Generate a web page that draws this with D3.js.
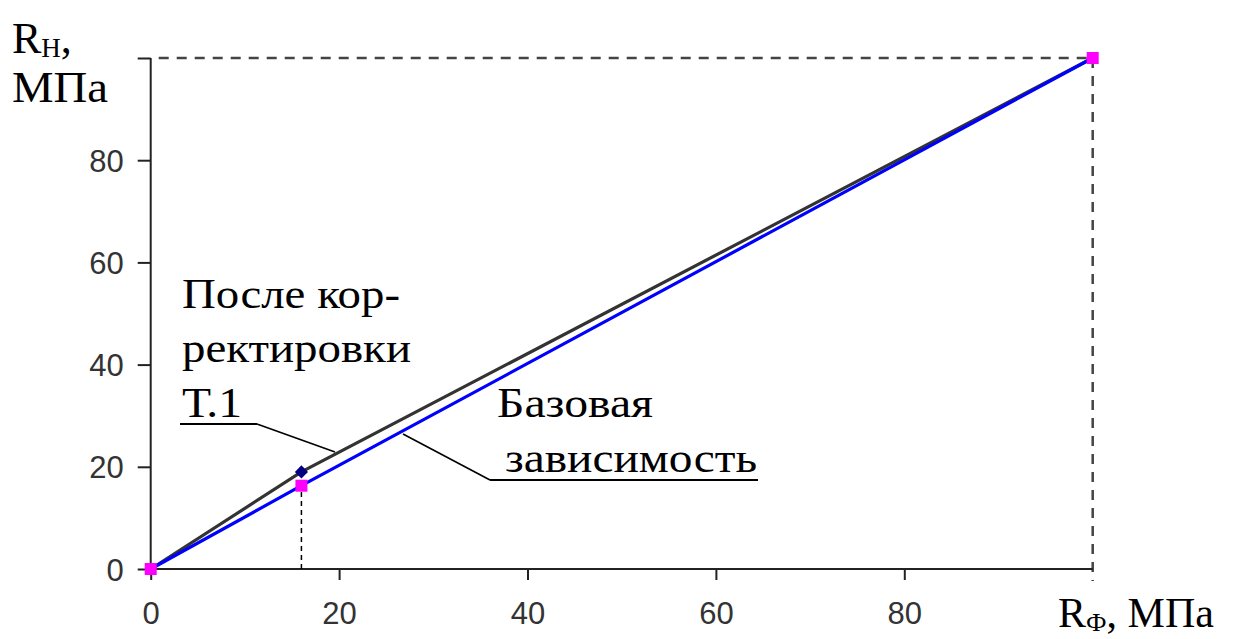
<!DOCTYPE html>
<html>
<head>
<meta charset="utf-8">
<script src="https://cdn.jsdelivr.net/npm/d3@7"></script>
<style>
  body { margin: 0; background: #fff; }
</style>
</head>
<body>
<svg id="chart" width="1239" height="639"></svg>
<script>
const svg = d3.select('#chart')

// data
const ticks = [0, 20, 40, 60, 80, 100]
const tickLabels = ['0', '20', '40', '60', '80', '']
const baseX = [0, 16, 100]
const baseY = [0, 16.3, 100]
const corrX = [0, 16, 100]
const corrY = [0, 19, 100]
const corrPointX = [16]
const corrPointY = [19]

const xScale = d3.scaleLinear().domain([0, 100]).range([150.7, 1092.7])
const yScale = d3.scaleLinear().domain([0, 100]).range([569, 58])

const axisColor = '#222'
const labelFont = '"Liberation Sans", Arial, sans-serif'
const serifFont = '"Liberation Serif", "Times New Roman"'

// dashed frame (top and right)
svg.append('line')
  .attr('x1', xScale(0)).attr('x2', xScale(100))
  .attr('y1', yScale(100)).attr('y2', yScale(100))
  .attr('stroke', '#444').attr('stroke-width', 2.5)
  .attr('stroke-dasharray', '10 8').attr('stroke-dashoffset', -8)
svg.append('line')
  .attr('x1', xScale(100)).attr('x2', xScale(100))
  .attr('y1', yScale(100)).attr('y2', yScale(0) + 12)
  .attr('stroke', '#444').attr('stroke-width', 2.5)
  .attr('stroke-dasharray', '10 8')

// x axis
const xAxis = d3.axisBottom(xScale)
  .tickValues(ticks)
  .tickFormat((d, i) => tickLabels[i])
  .tickSize(11).tickPadding(22)
const gx = svg.append('g')
  .attr('transform', `translate(0, ${yScale(0)})`)
  .call(xAxis)
gx.select('path.domain').attr('stroke', axisColor).attr('stroke-width', 2).attr('d', `M${xScale(0)},0H${xScale(100)}`)
gx.selectAll('.tick line').attr('stroke', axisColor).attr('stroke-width', 2)
gx.selectAll('.tick').filter(d => d === 100).select('line').remove()
gx.selectAll('.tick text')
  .attr('font-family', labelFont).attr('font-size', 31).attr('fill', '#333')

// y axis
const yAxis = d3.axisLeft(yScale)
  .tickValues(ticks)
  .tickFormat((d, i) => tickLabels[i])
  .tickSize(13).tickPadding(14)
const gy = svg.append('g')
  .attr('transform', `translate(${xScale(0)}, 0)`)
  .call(yAxis)
gy.select('path.domain').attr('stroke', axisColor).attr('stroke-width', 2).attr('d', `M0,${yScale(0)}V${yScale(100)}`)
gy.selectAll('.tick line').attr('stroke', axisColor).attr('stroke-width', 2)
gy.selectAll('.tick text')
  .attr('font-family', labelFont).attr('font-size', 31).attr('fill', '#333')
  .attr('dy', '0.36em')

// thin dashed drop line at the correction point
svg.append('line')
  .attr('x1', xScale(baseX[1])).attr('x2', xScale(baseX[1]))
  .attr('y1', yScale(0)).attr('y2', yScale(baseY[1]))
  .attr('stroke', '#000').attr('stroke-width', 1.5)
  .attr('stroke-dasharray', '5 4')

// lines
const line = d3.line().x(d => xScale(d[0])).y(d => yScale(d[1]))
svg.append('path')
  .datum(d3.zip(corrX, corrY))
  .attr('d', line)
  .attr('fill', 'none').attr('stroke', '#333').attr('stroke-width', 3.2)
svg.append('path')
  .datum(d3.zip(baseX, baseY))
  .attr('d', line)
  .attr('fill', 'none').attr('stroke', '#0000ff').attr('stroke-width', 3.2)

// markers
svg.selectAll('path.diamond')
  .data(d3.zip(corrPointX, corrPointY))
  .enter()
  .append('path')
    .attr('class', 'diamond')
    .attr('d', d3.symbol().type(d3.symbolDiamond2).size(110))
    .attr('transform', d => `translate(${xScale(d[0])}, ${yScale(d[1])})`)
    .attr('fill', '#000080')
svg.selectAll('rect.sq')
  .data(d3.zip(baseX, baseY))
  .enter()
  .append('rect')
    .attr('class', 'sq')
    .attr('x', d => xScale(d[0]) - 6)
    .attr('y', d => yScale(d[1]) - 6)
    .attr('width', 12).attr('height', 12)
    .attr('fill', '#ff00ff')

// serif text helper, optional width fit
function serif(x, y, size, len) {
  const t = svg.append('text')
    .attr('x', x).attr('y', y)
    .attr('font-family', serifFont)
    .attr('font-size', size)
    .attr('fill', '#000')
  if (len) t.attr('textLength', len).attr('lengthAdjust', 'spacingAndGlyphs')
  return t
}

// axis titles
const yTitle = serif(12, 53, 44)
yTitle.append('tspan').text('R')
yTitle.append('tspan').attr('font-size', 27).attr('dy', 4).text('H')
yTitle.append('tspan').attr('dy', -4).text(',')
serif(12, 102, 44, 96).text('МПа')

const xTitle = serif(1058, 627, 42)
xTitle.append('tspan').text('R')
xTitle.append('tspan').attr('font-size', 26).attr('dy', 4).text('Ф')
xTitle.append('tspan').attr('dy', -4).text(', МПа')

// annotations
serif(182, 308, 42, 218).text('После кор-')
serif(182, 362, 42, 229).text('ректировки')
serif(182, 417, 42, 60).text('Т.1')
svg.append('line').attr('x1', 180).attr('x2', 257).attr('y1', 424).attr('y2', 424).attr('stroke', '#000').attr('stroke-width', 2)
svg.append('line').attr('x1', 257).attr('x2', 335).attr('y1', 424).attr('y2', 452).attr('stroke', '#000').attr('stroke-width', 1.6)

serif(497, 417, 42, 156).text('Базовая')
serif(505, 472, 42, 252).text('зависимость')
svg.append('line').attr('x1', 490).attr('x2', 758).attr('y1', 480).attr('y2', 480).attr('stroke', '#000').attr('stroke-width', 2)
svg.append('line').attr('x1', 490).attr('x2', 403).attr('y1', 480).attr('y2', 434).attr('stroke', '#000').attr('stroke-width', 1.6)
</script>
</body>
</html>
